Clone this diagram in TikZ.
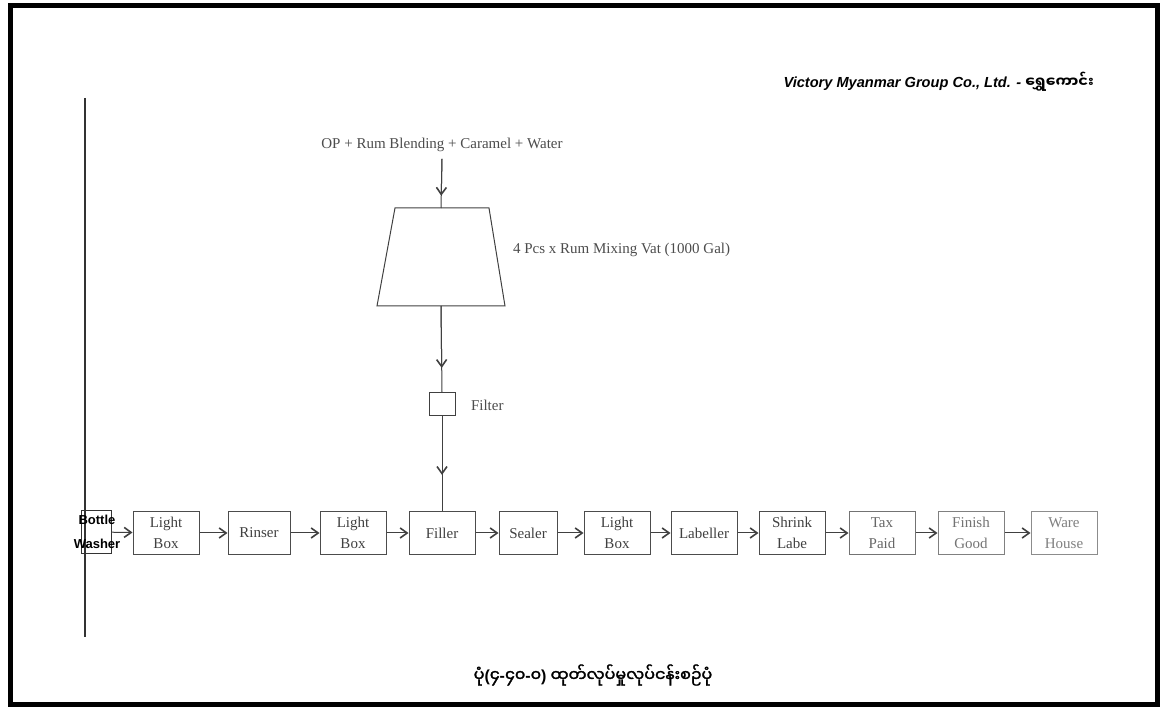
\documentclass[tikz,border=0pt]{standalone}
\usepackage{fontspec}
\setmainfont{Liberation Serif}
\newfontfamily\hdfont{Liberation Sans}
\newfontfamily\mmfont[Script=Myanmar,AutoFakeBold=2]{Noto Sans Myanmar UI}
\newcommand{\lat}[1]{{\hdfont\bfseries #1}}
\usetikzlibrary{arrows.meta,calc}
\tikzset{
	stage/.style={draw=black!70, line width=0.5pt, minimum width=33pt, minimum height=21.5pt,
		align=center, inner sep=1pt, text=black!75, font=\fontsize{7.5}{10.5}\selectfont},
	flow/.style={draw=black!75, line width=0.5pt, -{Straight Barb[length=3.5pt,width=5pt,line width=0.8pt]}},
	pipe/.style={draw=black!75, line width=0.5pt}
}
\begin{document}
\begin{tikzpicture}[x=0.5pt, y=-0.5pt]
	\useasboundingbox (0,0) rectangle (1164,711);
	% frame
	\draw[line width=2.5pt] (10,6) rectangle (1157,705);
	\draw[line width=0.6pt, black!80] (85,98) -- (85,637);
	% header
	\node[anchor=east, font=\hdfont\bfseries\itshape\fontsize{7.3}{9}\selectfont] (head) at (1101,82)
		{Victory Myanmar Group Co., Ltd. - {\mmfont\bfseries ရွှေကောင်း}};
	% feed and vat
	\node[font=\fontsize{7.5}{9}\selectfont, text=black!70] (feed) at (442,145) {OP + Rum Blending + Caramel + Water};
	\draw[pipe] (395,208) -- (489,208) -- (505,306) -- (377,306) -- cycle;
	\coordinate (vattop) at (441,208);
	\coordinate (vatbot) at (441,306);
	\node[anchor=west, font=\fontsize{7.5}{9}\selectfont, text=black!70] (vatlabel) at (506,250) {4 Pcs x Rum Mixing Vat (1000 Gal)};
	\draw[pipe] (feed.south) -- (vattop);
	\draw[flow] (feed.south) -- ($(feed.south)!0.75!(vattop)$);
	% filter
	\node[draw=black!75, line width=0.5pt, minimum width=13pt, minimum height=11.5pt, inner sep=0pt] (filter) at (442,404) {};
	\node[anchor=west, font=\fontsize{7.5}{9}\selectfont, text=black!70] (filterlabel) at (464,405) {Filter};
	\draw[pipe] (vatbot) -- (filter.north);
	\draw[flow] (vatbot) -- ($(vatbot)!0.72!(filter.north)$);
	% line
	\node[draw=black!80, line width=0.5pt, minimum width=15pt, minimum height=21.5pt, inner sep=0pt] (washer) at (96,532) {};
	\node[align=center, font=\hdfont\bfseries\fontsize{6.5}{12}\selectfont] (washertext) at (97,532) {Bottle\\Washer};
	\node[stage] (lightboxa) at (166,533) {Light\\Box};
	\node[stage, minimum width=31pt] (rinser) at (259,533) {Rinser};
	\node[stage] (lightboxb) at (353,533) {Light\\Box};
	\node[stage] (filler) at (442,533) {Filler};
	\node[stage, minimum width=29pt] (sealer) at (528,533) {Sealer};
	\node[stage] (lightboxc) at (617,533) {Light\\Box};
	\node[stage] (labeller) at (704,533) {Labeller};
	\node[stage] (shrink) at (792,533) {Shrink\\Labe};
	\node[stage, draw=black!55, text=black!60] (taxpaid) at (882,533) {Tax\\Paid};
	\node[stage, draw=black!50, text=black!55] (finish) at (971,533) {Finish\\Good};
	\node[stage, draw=black!45, text=black!50] (warehouse) at (1064,533) {Ware\\House};
	\draw[pipe] (filter.south) -- (filler.north);
	\draw[flow] (filter.south) -- ($(filter.south)!0.62!(filler.north)$);
	\draw[flow] (washer) -- (lightboxa);
	\foreach \a/\b in {lightboxa/rinser, rinser/lightboxb, lightboxb/filler, filler/sealer, sealer/lightboxc,
		lightboxc/labeller, labeller/shrink, shrink/taxpaid, taxpaid/finish, finish/warehouse}
		\draw[flow] (\a) -- (\b);
	% caption
	\node[font=\mmfont\bfseries\fontsize{8}{10}\selectfont] (caption) at (593,675)
		{ပုံ\lat{(}၄\lat{-}၄၀\lat{-}၀\lat{)} ထုတ်လုပ်မှုလုပ်ငန်းစဉ်ပုံ};
\end{tikzpicture}
\end{document}
